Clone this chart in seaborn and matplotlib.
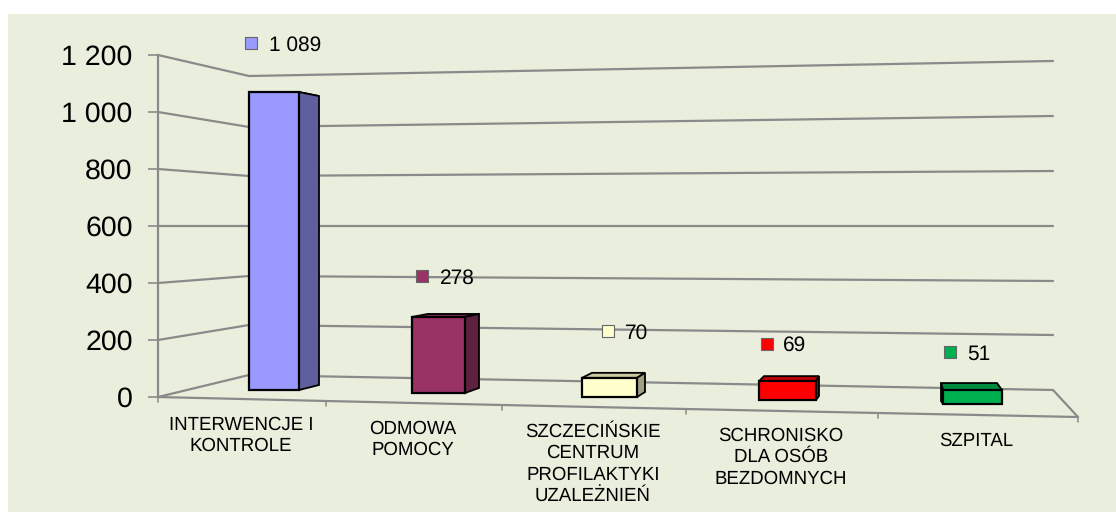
import numpy as np
import pandas as pd
import matplotlib
matplotlib.use('Agg')
import matplotlib.pyplot as plt
from matplotlib.patches import Polygon, Rectangle
import seaborn as sns

# -----------------------------
# Data
# -----------------------------
categories = ['INTERWENCJE I\nKONTROLE', 'ODMOWA\nPOMOCY',
              'SZCZECIŃSKIE\nCENTRUM\nPROFILAKTYKI\nUZALEŻNIEŃ',
              'SCHRONISKO\nDLA OSÓB\nBEZDOMNYCH', 'SZPITAL']
values = [1089, 278, 70, 69, 51]
value_ticks = [0, 200, 400, 600, 800, 1000, 1200]

# -----------------------------
# Colours
# -----------------------------
front_colors = ['#9999FF', '#993366', '#FFFFCC', '#FF0000', '#00B050']
side_colors = ['#5F5F9F', '#602040', '#A0A080', '#A00000', '#006E32']
top_colors = ['#5F5F9F', '#7A2950', '#CCC9A0', '#C00000', '#008A40']
panel_color = '#EAEEDD'
line_color = '#8A8A8A'

# -----------------------------
# Layout of the fake 3D box (all in picture pixels)
# -----------------------------
W, H = 1116, 512
AXIS_X, AXIS_TOP, AXIS_BOTTOM = 158, 55, 397
BAR_SCALE = 0.2736  # pixels per unit on the front of the bars

bar_left = [249, 412, 582, 759, 943]
bar_right = [299, 465, 637, 816, 1002]
bar_bottom = [390, 393, 397, 400, 404]
back_right_dx = [20, 14, 8, 3, -5]
back_left_dx = [20, 16, 10, 5, -2]
back_top_dy = [4, -3, -5, -5, -7]
back_bottom_dy = [-5, -5, -5, -4, -3]

wall_x0, wall_x1 = 249, 1053
wall_y0 = [375, 325, 276, 226, 176, 127, 76]
wall_y1 = [390, 335, 281, 226, 171, 116, 61]
floor_x = [158, 326, 502, 686, 878, 1078]
floor_y = [397, 401, 405, 409, 413, 417]

marker_x = [251, 422, 608, 767, 950]
marker_y = [43, 276, 331, 344, 352]
value_label_x = [269, 440, 625, 783, 967]
value_label_y = [45, 278, 333, 345, 354]
cat_label_x = [241, 413, 593, 781, 976]
cat_label_top = [416, 420, 423, 427, 432]

# -----------------------------
# Figure
# -----------------------------
sns.set_theme(style='white')
plt.rcParams['font.family'] = ['Liberation Sans', 'DejaVu Sans']
plt.rcParams['text.hinting'] = 'no_hinting'

fig = plt.figure(figsize=(W / 100, H / 100), dpi=100, facecolor='white')

# pixel axes for panel, walls and labels
ax = fig.add_axes([0, 0, 1, 1], zorder=1)
ax.set_xlim(0, W)
ax.set_ylim(H, 0)
ax.axis('off')
ax.add_patch(Rectangle((8, 14), W - 8, H - 14, facecolor=panel_color, edgecolor='none', zorder=0))

for tick, y0, y1 in zip(value_ticks, wall_y0, wall_y1):
    left_y = AXIS_BOTTOM - tick / 1200 * (AXIS_BOTTOM - AXIS_TOP)
    ax.plot([AXIS_X, wall_x0, wall_x1], [left_y, y0, y1], color=line_color, lw=1.6,
            solid_joinstyle='miter', zorder=1)

# floor
ax.plot(floor_x, floor_y, color=line_color, lw=1.6, zorder=1)
ax.plot([wall_x1, floor_x[-1]], [wall_y1[0], floor_y[-1]], color=line_color, lw=1.6, zorder=1)
for fx, fy in zip(floor_x, floor_y):
    ax.plot([fx, fx], [fy, fy + 5], color=line_color, lw=1.1, zorder=1)

# value axis
ax_val = fig.add_axes([AXIS_X / W, 1 - AXIS_BOTTOM / H, (W - AXIS_X - 37) / W, (AXIS_BOTTOM - AXIS_TOP) / H],
                      zorder=2)
ax_val.patch.set_alpha(0)
ax_val.set_ylim(0, 1200)
ax_val.set_yticks(value_ticks)
ax_val.set_yticklabels([f'{v:,}'.replace(',', ' ') for v in value_ticks], fontsize=20.5, color='black')
ax_val.set_xticks([])
ax_val.tick_params(axis='y', length=7.2, width=1.2, color=line_color, pad=11, left=True)
sns.despine(ax=ax_val, bottom=True, right=True, top=True)
ax_val.spines['left'].set_color(line_color)
ax_val.spines['left'].set_linewidth(1.6)

# bars
ax_bar = fig.add_axes([0, 0, 1, 1], zorder=3)
df = pd.DataFrame({'Kategoria': categories, 'Liczba': values})
sns.barplot(data=df, x='Kategoria', y='Liczba', hue='Kategoria', palette=front_colors, saturation=1,
            legend=False, edgecolor='black', linewidth=1.6, ax=ax_bar, zorder=3)
ax_bar.set_xlim(0, W)
ax_bar.set_ylim(0, H / BAR_SCALE)
ax_bar.axis('off')

bars = [p for p in ax_bar.patches if isinstance(p, Rectangle)]
for i, bar in enumerate(bars):
    bar.set_x(bar_left[i])
    bar.set_width(bar_right[i] - bar_left[i])
    bar.set_y((H - bar_bottom[i]) / BAR_SCALE)

    x0, x1 = bar_left[i], bar_right[i]
    y_low = bar.get_y()
    y_high = y_low + bar.get_height()
    top_up = -back_top_dy[i] / BAR_SCALE
    low_up = -back_bottom_dy[i] / BAR_SCALE
    xr = x1 + back_right_dx[i]
    xl = x0 + back_left_dx[i]

    # top face
    ax_bar.add_patch(Polygon([(x0, y_high), (x1, y_high), (xr, y_high + top_up), (xl, y_high + top_up)],
                             facecolor=top_colors[i], edgecolor='black', linewidth=1.3, zorder=2))
    # side face, right one unless the bar is past the vanishing point
    if back_right_dx[i] > 0:
        side = [(x1, y_low), (x1, y_high), (xr, y_high + top_up), (xr, y_low + low_up)]
    else:
        side = [(x0, y_low), (x0, y_high), (xl, y_high + top_up), (xl, y_low + low_up)]
    ax_bar.add_patch(Polygon(side, facecolor=side_colors[i], edgecolor='black', linewidth=1.3, zorder=2))

# labels
for i, value in enumerate(values):
    ax.scatter(marker_x[i], marker_y[i], marker='s', s=66, facecolor=front_colors[i],
               edgecolor='#666666', linewidth=0.8, zorder=5)
    ax.text(value_label_x[i], value_label_y[i], f'{value:,}'.replace(',', ' '), fontsize=15,
            color='black', ha='left', va='center', zorder=5)
    ax.text(cat_label_x[i], cat_label_top[i], categories[i], fontsize=13.4, color='black',
            ha='center', va='top', linespacing=1.27, zorder=5)

fig.savefig('out.png', dpi=100, facecolor='white')
